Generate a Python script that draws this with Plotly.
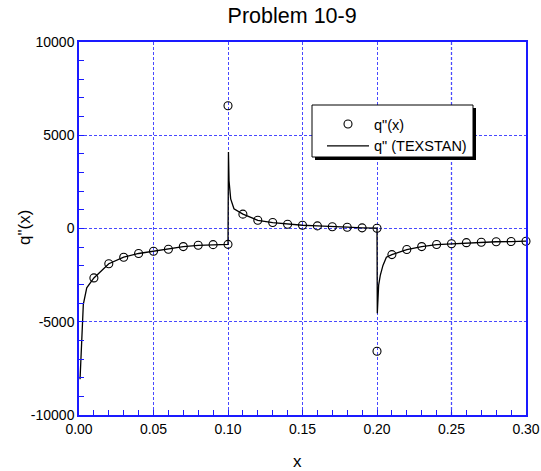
import plotly.graph_objects as go

# Heat flux q''(x) at the discrete stations
x_pts = [0.01, 0.02, 0.03, 0.04, 0.05, 0.06, 0.07, 0.08, 0.09, 0.10, 0.10,
         0.11, 0.12, 0.13, 0.14, 0.15, 0.16, 0.17, 0.18, 0.19, 0.20, 0.20,
         0.21, 0.22, 0.23, 0.24, 0.25, 0.26, 0.27, 0.28, 0.29, 0.30]
q_pts = [-2650, -1890, -1540, -1340, -1220, -1110, -970, -900, -865, -850, 6580,
         770, 440, 318, 230, 175, 140, 90, 70, 35, 15, -6580,
         -1400, -1130, -970, -860, -815, -760, -740, -710, -700, -680]

# TEXSTAN solution, continuous through the two wall-temperature steps
x_tex = [0.0007, 0.0013, 0.002, 0.0029, 0.0052, 0.01, 0.02, 0.03, 0.04, 0.05,
         0.06, 0.07, 0.08, 0.09, 0.10,
         0.1003, 0.1007, 0.1018, 0.104, 0.11, 0.12, 0.13, 0.14, 0.15, 0.16,
         0.17, 0.18, 0.19, 0.2,
         0.2002, 0.2011, 0.2022, 0.204, 0.2063, 0.21, 0.22, 0.23, 0.24, 0.25,
         0.26, 0.27, 0.28, 0.29, 0.30]
q_tex = [-8080, -6900, -5040, -4070, -3180, -2650, -1890, -1540, -1340, -1220,
         -1110, -970, -900, -865, -850,
         4100, 2560, 1590, 1060, 770, 440, 318, 230, 175, 140,
         90, 70, 35, 15,
         -4550, -3040, -2510, -1980, -1540, -1400, -1130, -970, -860, -815,
         -760, -740, -710, -700, -680]

x_ticks = [0.0, 0.05, 0.10, 0.15, 0.20, 0.25, 0.30]
y_ticks = [-10000, -5000, 0, 5000, 10000]
y_labels = ["-10000", "-5000", "0", "5000", "10000"]

FONT = "Liberation Sans, Arial, sans-serif"
AXIS_BLUE = "#1a1aff"
GRID_BLUE = "#4848ff"

fig = go.Figure()
fig.add_trace(go.Scatter(
    x=x_pts, y=q_pts, mode="markers", name='q"(x)',
    marker=dict(symbol="circle-open", size=8, color="black",
                line=dict(width=1.1, color="black")),
    cliponaxis=False,
))
fig.add_trace(go.Scatter(
    x=x_tex, y=q_tex, mode="lines", name='q" (TEXSTAN)',
    line=dict(color="black", width=1.3),
))

axis_common = dict(
    showline=True, linecolor=AXIS_BLUE, linewidth=1.5, mirror=True,
    showgrid=True, gridcolor=GRID_BLUE, gridwidth=1.2, griddash="3px,2px",
    zeroline=False, ticks="inside", ticklen=5, tickcolor=AXIS_BLUE, tickwidth=1,
    tickfont=dict(family=FONT, size=14, color="black"), automargin=False,
)

fig.update_xaxes(
    range=[0, 0.3], tickvals=x_ticks, tickformat=".2f",
    minor=dict(dtick=0.01, ticks="inside", ticklen=5, tickcolor=AXIS_BLUE, showgrid=False),
    **axis_common,
)
fig.update_yaxes(
    range=[-10000, 10000], tickvals=y_ticks, ticktext=y_labels,
    minor=dict(dtick=1000, ticks="inside", ticklen=5, tickcolor=AXIS_BLUE, showgrid=False),
    **axis_common,
)

# Axis titles
fig.add_annotation(text="x", xref="paper", yref="paper", x=(297 - 79) / 447,
                   y=(415 - 461) / 373, showarrow=False, xanchor="center", yanchor="middle",
                   font=dict(family=FONT, size=17, color="black"))
fig.add_annotation(text='q"(x)', xref="paper", yref="paper", x=(24 - 79) / 447,
                   y=(415 - 228) / 373, showarrow=False, textangle=-90,
                   xanchor="center", yanchor="middle",
                   font=dict(family=FONT, size=17, color="black"))

# Darker grid line at x = 0.25
fig.add_shape(type="line", xref="x", yref="paper", x0=0.25, x1=0.25, y0=0, y1=1,
              layer="below", line=dict(color="#1818d8", width=1.2, dash="3px,2px"))

# Legend frame with drop shadow
fig.add_shape(type="rect", xref="paper", yref="paper", layer="above",
              x0=(315 - 79) / 447, x1=(476 - 79) / 447,
              y0=(415 - 160) / 373, y1=(415 - 108) / 373,
              fillcolor="black", line=dict(width=0))
fig.add_shape(type="rect", xref="paper", yref="paper", layer="above",
              x0=(312 - 79) / 447, x1=(473 - 79) / 447,
              y0=(415 - 157) / 373, y1=(415 - 105) / 373,
              fillcolor="white", line=dict(color="black", width=1))

fig.update_layout(
    width=541, height=471,
    margin=dict(l=79, r=15, t=42, b=56),
    paper_bgcolor="white", plot_bgcolor="white",
    title=dict(text="Problem 10-9", x=0.54, xanchor="center", y=0.968, yanchor="middle",
               font=dict(family=FONT, size=21.5, color="black")),
    showlegend=True,
    legend=dict(x=(322 - 79) / 447, y=(415 - 108) / 373, xanchor="left", yanchor="top",
                bgcolor="rgba(0,0,0,0)", borderwidth=0, itemwidth=42,
                font=dict(family=FONT, size=14.5, color="black"), tracegroupgap=0),
)

fig.write_html("out.html")
